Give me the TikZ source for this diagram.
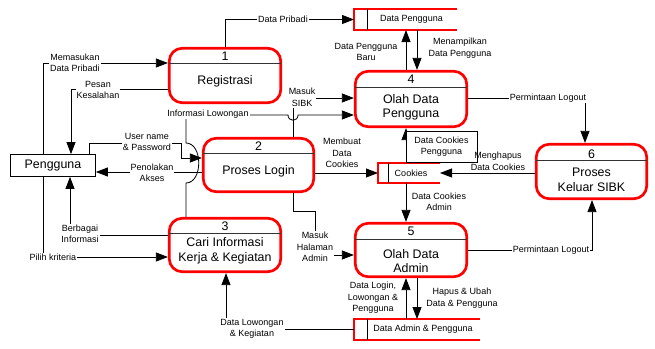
\documentclass[tikz,border=0pt]{standalone}
\usepackage{fontspec}
\setmainfont{Liberation Sans}
\usetikzlibrary{arrows.meta}
\newcommand\lblfont{\fontsize{9}{11.5}\selectfont}
\newcommand\bigfont{\fontsize{12.4}{14.5}\selectfont}
\begin{document}
\begin{tikzpicture}[x=1pt,y=-1pt,
  proc/.style={draw=red, line width=2.7pt, rounded corners=13pt, inner sep=0pt},
  ext/.style={draw=black, line width=0.8pt, inner sep=0pt, minimum width=85pt, minimum height=22pt, font=\bigfont},
  store/.style={inner sep=0pt, outer sep=0pt, font=\lblfont},
  storeline/.style={draw=red, line width=2.7pt},
  sdiv/.style={draw=black, line width=0.8pt},
  divl/.style={draw=black!80, line width=0.8pt, shorten <=1.2pt, shorten >=1.2pt},
  ptext/.style={font=\bigfont, align=center, inner sep=0pt},
  flow/.style={draw=black, line width=0.8pt, -{Triangle[length=12pt,width=9pt]}},
  lbl/.style={fill=white, inner sep=1pt, align=center, font=\lblfont},
  lbln/.style={inner sep=1pt, align=center, font=\lblfont},
]
\useasboundingbox (0,0) rectangle (655,348);

% processes
\node[proc, minimum width=111.5pt, minimum height=54.5pt] (p1) at (225,75.5) {};
\node[proc, minimum width=111.5pt, minimum height=55.5pt] (p4) at (411,99) {};
\node[proc, minimum width=110.5pt, minimum height=53.5pt] (p2) at (258.5,165) {};
\node[proc, minimum width=110.5pt, minimum height=54.5pt] (p6) at (591.5,171.5) {};
\node[proc, minimum width=111.5pt, minimum height=53.5pt] (p3) at (225,245) {};
\node[proc, minimum width=111.5pt, minimum height=53.5pt] (p5) at (411,250) {};

\draw[divl] (p1.west |- 0,63) -- (p1.east |- 0,63);
\draw[divl] (p4.west |- 0,87) -- (p4.east |- 0,87);
\draw[divl] (p2.west |- 0,153) -- (p2.east |- 0,153);
\draw[divl] (p6.west |- 0,160) -- (p6.east |- 0,160);
\draw[divl] (p3.west |- 0,233) -- (p3.east |- 0,233);
\draw[divl] (p5.west |- 0,239) -- (p5.east |- 0,239);

\node[ptext] (n1) at (225,56) {1};
\node[ptext] (t1) at (225,81) {Registrasi};
\node[ptext] (n4) at (411,79) {4};
\node[ptext] (t4) at (411,107.5) {Olah Data\\Pengguna};
\node[ptext] (n2) at (258.5,146.5) {2};
\node[ptext] (t2) at (258.5,171.5) {Proses Login};
\node[ptext] (n6) at (591.5,154.5) {6};
\node[ptext] (t6) at (591.5,180) {Proses\\Keluar SIBK};
\node[ptext] (n3) at (225,226) {3};
\node[ptext] (t3) at (225,251) {Cari Informasi\\Kerja \& Kegiatan};
\node[ptext] (n5) at (411,231) {5};
\node[ptext] (t5) at (411,261) {Olah Data\\Admin};

% external entity
\node[ext] (pg) at (53,165.5) {Pengguna};

% data stores
\node[store, minimum width=103pt, minimum height=21pt] (s1) at (405.5,19.5) {\hspace*{12pt}Data Pengguna};
\draw[storeline] (s1.north east) -- (s1.north west) -- (s1.south west) -- (s1.south east);
\draw[sdiv] ([xshift=13pt]s1.north west) -- ([xshift=13pt]s1.south west);

\node[store, minimum width=62pt, minimum height=20pt] (s2) at (409,173) {\hspace*{4pt}Cookies};
\draw[storeline] (s2.north east) -- (s2.north west) -- (s2.south west) -- (s2.south east);
\draw[sdiv] ([xshift=10pt]s2.north west) -- ([xshift=10pt]s2.south west);

\node[store, minimum width=126pt, minimum height=21pt] (s3) at (417,329.5) {\hspace*{12pt}Data Admin \& Pengguna};
\draw[storeline] (s3.north east) -- (s3.north west) -- (s3.south west) -- (s3.south east);
\draw[sdiv] ([xshift=13pt]s3.north west) -- ([xshift=13pt]s3.south west);

% connectors
\draw[flow] (p1.north) |- (s1.west);
\draw[flow] (pg.north -| 43,0) |- (p1.west |- 0,63);
\draw[flow] (p1.west |- 0,89) -| (pg.north -| 71,0);
\draw[flow] (pg.north -| 89,0) -- (89,143) -- (181,143) -- (181,158) -- (p2.west |- 0,158);
\draw[flow] (p2.west |- 0,172) -- (pg.east |- 0,172);
\draw[flow] (p3.west |- 0,235) -| (pg.south -| 70,0);
\draw[flow] (pg.south -| 43,0) |- (p3.west |- 0,257);
\draw[flow] (p3.north -| 186,0) -- (186,183) .. controls (203,183) and (203,143) .. (186,143)
   -- (186,115) -- (288,115) .. controls (288,122) and (298,122) .. (298,115) -- (p4.west |- 0,115);
\draw[flow] (p2.north -| 293,0) |- (p4.west |- 0,98);
\draw[flow] (p4.north -| 406,0) -- (s1.south -| 406,0);
\draw[flow] (s1.south -| 417,0) -- (p4.north -| 417,0);
\draw[flow] (p4.east |- 0,98) -| (p6.north -| 585,0);
\draw[flow] (p2.east |- s2.west) -- (s2.west);
\draw[flow] (s2.north -| 406,0) -- (p4.south -| 406,0);
\draw[flow] (s2.south -| 406,0) -- (p5.north -| 406,0);
\draw[flow] (p6.west |- s2.east) -- (s2.east);
\draw[flow] (p2.south -| 293,0) -- (293,211) -- (315,211) -- (315,255) -- (p5.west |- 0,255);
\draw[flow] (p5.east |- 0,250) -| (p6.south -| 592,0);
\draw[flow] (s3.north -| 406,0) -- (p5.south -| 406,0);
\draw[flow] (p5.south -| 417,0) -- (s3.north -| 417,0);
\draw[flow] (s3.west) -| (p3.south -| 226,0);

% labels
\node[lbl] (lDP) at (283,19) {Data Pribadi};
\node[lbl] (lMDP) at (75,63) {Memasukan\\Data Pribadi};
\node[lbl] (lPK) at (98,90) {Pesan\\Kesalahan};
\node[lbl] (lUP) at (147,142) {User name\\\& Password};
\node[lbl] (lPA) at (152,173) {Penolakan\\Akses};
\node[lbl] (lBI) at (80,234) {Berbagai\\Informasi};
\node[lbl] (lPKr) at (53,257) {Pilih kriteria};
\node[lbl] (lIL) at (208,114) {Informasi Lowongan};
\node[lbl] (lMS) at (302,97.5) {Masuk\\SIBK};
\node[lbln] (lDPB) at (366,52) {Data Pengguna\\Baru};
\node[lbln] (lMDPg) at (460,48) {Menampilkan\\Data Pengguna};
\node[lbl] (lPL1) at (548,98) {Permintaan Logout};
\node[lbln] (lMDC) at (342,153) {Membuat\\Data\\Cookies};
\node[lbln, draw=black, line width=0.8pt, fill=white, minimum width=71pt, minimum height=31pt, inner sep=0pt] (lDCP) at (441.5,146.5) {Data Cookies\\Pengguna};
\node[lbln] (lDCA) at (439,202) {Data Cookies\\Admin};
\node[lbln] (lMgh) at (498,161.5) {Menghapus\\Data Cookies};
\node[lbl] (lMHA) at (315,247) {Masuk\\Halaman\\Admin};
\node[lbl] (lPL2) at (551,250) {Permintaan Logout};
\node[lbln] (lDLL) at (373,298) {Data Login,\\Lowongan \&\\Pengguna};
\node[lbln] (lHU) at (462,298) {Hapus \& Ubah\\Data \& Pengguna};
\node[lbl] (lDLK) at (252,329) {Data Lowongan\\\& Kegiatan};
\end{tikzpicture}
\end{document}
